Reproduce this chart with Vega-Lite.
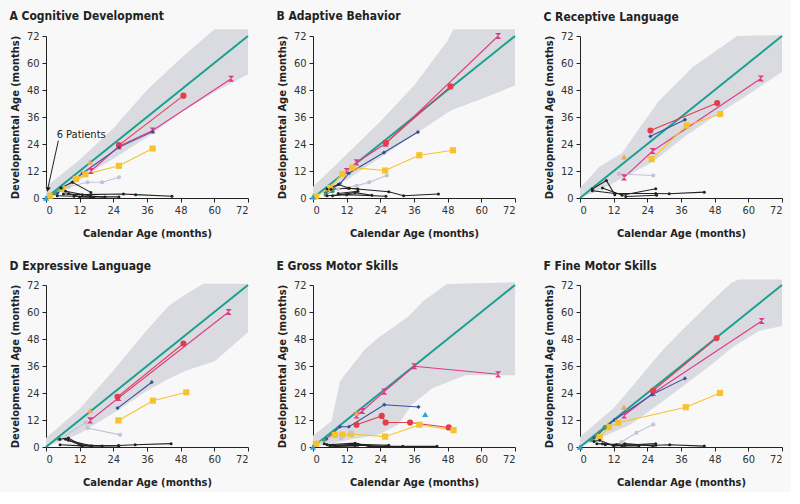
{
"$schema": "https://vega.github.io/schema/vega-lite/v6.json",
"padding": {"left": 9, "top": 10, "right": 5, "bottom": 5},
"columns": 3,
"spacing": {"row": 22, "column": 24},
"datasets": {
"diag": [{"x": 0, "y": 0}, {"x": 72, "y": 72}],
"band": [
{"p":"A","x":0,"y":0,"y2":5},{"p":"A","x":6,"y":3,"y2":11},{"p":"A","x":12,"y":8,"y2":17},{"p":"A","x":18,"y":13,"y2":24},{"p":"A","x":24,"y":17.5,"y2":31},{"p":"A","x":36,"y":27,"y2":48},{"p":"A","x":48,"y":38,"y2":62},{"p":"A","x":60,"y":47,"y2":75},{"p":"A","x":66,"y":51,"y2":75},{"p":"A","x":72,"y":55,"y2":75},
{"p":"B","x":0,"y":0,"y2":5},{"p":"B","x":12,"y":8,"y2":19.5},{"p":"B","x":24,"y":18,"y2":34},{"p":"B","x":36,"y":28,"y2":50},{"p":"B","x":48,"y":38,"y2":70},{"p":"B","x":50,"y":39.3,"y2":75},{"p":"B","x":60,"y":44,"y2":75},{"p":"B","x":72,"y":50,"y2":75},
{"p":"C","x":0,"y":0,"y2":4.4},{"p":"C","x":7,"y":3.5,"y2":14},{"p":"C","x":11,"y":6,"y2":17},{"p":"C","x":15,"y":8.7,"y2":20},{"p":"C","x":20,"y":12,"y2":29},{"p":"C","x":26,"y":16,"y2":39.5},{"p":"C","x":28,"y":18,"y2":43},{"p":"C","x":38,"y":28,"y2":55.5},{"p":"C","x":40,"y":29.6,"y2":58},{"p":"C","x":50,"y":38,"y2":66.8},{"p":"C","x":56,"y":42.8,"y2":72},{"p":"C","x":60,"y":46,"y2":72.1},{"p":"C","x":72,"y":56,"y2":72.5},
{"p":"D","x":0,"y":0,"y2":4},{"p":"D","x":12,"y":6,"y2":17},{"p":"D","x":24,"y":15,"y2":34},{"p":"D","x":36,"y":25,"y2":52},{"p":"D","x":44,"y":30.5,"y2":63},{"p":"D","x":50,"y":34,"y2":68},{"p":"D","x":56,"y":36.5,"y2":72.6},{"p":"D","x":60,"y":38,"y2":72.6},{"p":"D","x":72,"y":51,"y2":72.6},
{"p":"E","x":0,"y":0,"y2":5},{"p":"E","x":6.6,"y":1.6,"y2":11.6},{"p":"E","x":9.6,"y":2.4,"y2":29},{"p":"E","x":11.3,"y":2.8,"y2":32},{"p":"E","x":12,"y":3,"y2":33.1},{"p":"E","x":18.5,"y":4.4,"y2":43.5},{"p":"E","x":24,"y":5.8,"y2":49.2},{"p":"E","x":25.7,"y":7,"y2":50.7},{"p":"E","x":30.4,"y":10,"y2":54.8},{"p":"E","x":34,"y":16.6,"y2":58},{"p":"E","x":35.2,"y":18.8,"y2":59.6},{"p":"E","x":39.4,"y":23,"y2":65},{"p":"E","x":42.4,"y":26,"y2":67.7},{"p":"E","x":47.8,"y":28.7,"y2":72.5},{"p":"E","x":54.3,"y":31.9,"y2":72.7},{"p":"E","x":72,"y":31.9,"y2":73.2},
{"p":"F","x":0,"y":0,"y2":4.4},{"p":"F","x":12,"y":6.7,"y2":17.3},{"p":"F","x":18,"y":10,"y2":26},{"p":"F","x":24,"y":15.3,"y2":35},{"p":"F","x":30,"y":20.8,"y2":43.8},{"p":"F","x":36,"y":26.3,"y2":51.5},{"p":"F","x":47,"y":36.8,"y2":64.9},{"p":"F","x":54,"y":44,"y2":73},{"p":"F","x":56.5,"y":46,"y2":74.5},{"p":"F","x":64,"y":51.7,"y2":74.5},{"p":"F","x":72,"y":53.8,"y2":74.5}
],
"pts": [
{"p":"A","id":"pink","x":16,"y":12},{"p":"A","id":"pink","x":26,"y":23},{"p":"A","id":"pink","x":38,"y":30},{"p":"A","id":"pink","x":66,"y":53},
{"p":"A","id":"red","x":26,"y":23.5},{"p":"A","id":"red","x":49,"y":45.5},
{"p":"A","id":"orange","x":15.7,"y":16},
{"p":"A","id":"blue","x":4,"y":2},{"p":"A","id":"blue","x":13,"y":11},{"p":"A","id":"blue","x":26,"y":22.5},{"p":"A","id":"blue","x":38,"y":29.5},
{"p":"A","id":"yellow","x":1.5,"y":1},{"p":"A","id":"yellow","x":6,"y":4},{"p":"A","id":"yellow","x":10.7,"y":8.4},{"p":"A","id":"yellow","x":14,"y":10.5},{"p":"A","id":"yellow","x":26,"y":14.3},{"p":"A","id":"yellow","x":38,"y":22},
{"p":"A","id":"lav","x":8,"y":5},{"p":"A","id":"lav","x":14.8,"y":7},{"p":"A","id":"lav","x":20,"y":7},{"p":"A","id":"lav","x":26,"y":9.2},
{"p":"A","id":"green","x":3,"y":2},{"p":"A","id":"green","x":5.5,"y":4.5},
{"p":"A","id":"lblue","x":0,"y":0},
{"p":"A","id":"k1","x":5.3,"y":4.6},{"p":"A","id":"k1","x":9.4,"y":7},{"p":"A","id":"k1","x":16,"y":2.5},
{"p":"A","id":"k2","x":6.2,"y":1.8},{"p":"A","id":"k2","x":13,"y":1.5},{"p":"A","id":"k2","x":27.6,"y":1.8},{"p":"A","id":"k2","x":32,"y":1.5},{"p":"A","id":"k2","x":44.9,"y":0.8},
{"p":"A","id":"k3","x":7,"y":3},{"p":"A","id":"k3","x":15.9,"y":0.9},{"p":"A","id":"k3","x":21,"y":0.4},
{"p":"A","id":"k4","x":8,"y":2},{"p":"A","id":"k4","x":12,"y":0.5},{"p":"A","id":"k4","x":17,"y":0.3},
{"p":"A","id":"k5","x":4,"y":1},{"p":"A","id":"k5","x":10,"y":0.8},{"p":"A","id":"k5","x":16,"y":0.5},{"p":"A","id":"k5","x":26,"y":0.5},

{"p":"B","id":"pink","x":12,"y":12},{"p":"B","id":"pink","x":15.5,"y":15.8},{"p":"B","id":"pink","x":25.9,"y":24.2},{"p":"B","id":"pink","x":66,"y":72},
{"p":"B","id":"red","x":26,"y":24.5},{"p":"B","id":"red","x":49,"y":49.6},
{"p":"B","id":"orange","x":11,"y":11},
{"p":"B","id":"blue","x":4.5,"y":2.2},{"p":"B","id":"blue","x":9.6,"y":6.3},{"p":"B","id":"blue","x":12.8,"y":11},{"p":"B","id":"blue","x":25.3,"y":20.2},{"p":"B","id":"blue","x":37.4,"y":29.3},
{"p":"B","id":"yellow","x":1,"y":0.7},{"p":"B","id":"yellow","x":6,"y":4.5},{"p":"B","id":"yellow","x":10.4,"y":10.7},{"p":"B","id":"yellow","x":14,"y":13.5},{"p":"B","id":"yellow","x":25.7,"y":12.2},{"p":"B","id":"yellow","x":37.9,"y":19},{"p":"B","id":"yellow","x":49.9,"y":21.2},
{"p":"B","id":"lav","x":9,"y":4},{"p":"B","id":"lav","x":15.5,"y":5.4},{"p":"B","id":"lav","x":20,"y":7},{"p":"B","id":"lav","x":26.3,"y":10},
{"p":"B","id":"green","x":4.5,"y":1.5},{"p":"B","id":"green","x":7,"y":3},
{"p":"B","id":"lblue","x":0,"y":0.5},
{"p":"B","id":"k1","x":5,"y":4},{"p":"B","id":"k1","x":9,"y":6},{"p":"B","id":"k1","x":13,"y":4.3},{"p":"B","id":"k1","x":16,"y":4},
{"p":"B","id":"k2","x":6.4,"y":3.9},{"p":"B","id":"k2","x":12.6,"y":4.3},{"p":"B","id":"k2","x":27,"y":2.8},{"p":"B","id":"k2","x":32.3,"y":1},{"p":"B","id":"k2","x":44.7,"y":1.8},
{"p":"B","id":"k3","x":7,"y":1},{"p":"B","id":"k3","x":15,"y":2.4},{"p":"B","id":"k3","x":21,"y":1.2},
{"p":"B","id":"k4","x":9,"y":2},{"p":"B","id":"k4","x":16,"y":3},
{"p":"B","id":"k5","x":5,"y":1},{"p":"B","id":"k5","x":12,"y":1.5},{"p":"B","id":"k5","x":26,"y":0.8},

{"p":"C","id":"pink","x":15.7,"y":9.2},{"p":"C","id":"pink","x":25.9,"y":20.9},{"p":"C","id":"pink","x":64.5,"y":53.1},
{"p":"C","id":"red","x":25.1,"y":30},{"p":"C","id":"red","x":48.9,"y":42.2},
{"p":"C","id":"orange","x":15.7,"y":18.3},
{"p":"C","id":"blue","x":25.1,"y":27.4},{"p":"C","id":"blue","x":37.4,"y":34.8},
{"p":"C","id":"yellow","x":25.5,"y":17.3},{"p":"C","id":"yellow","x":38,"y":32.2},{"p":"C","id":"yellow","x":50,"y":37.3},
{"p":"C","id":"lav","x":13.9,"y":10.7},{"p":"C","id":"lav","x":26.1,"y":10},
{"p":"C","id":"green","x":4.4,"y":4},
{"p":"C","id":"k1","x":4.4,"y":4},{"p":"C","id":"k1","x":9.4,"y":7.8},{"p":"C","id":"k1","x":12.4,"y":1.5},
{"p":"C","id":"k2","x":4.4,"y":3.2},{"p":"C","id":"k2","x":12.5,"y":2},{"p":"C","id":"k2","x":27,"y":2},{"p":"C","id":"k2","x":31.8,"y":1.9},{"p":"C","id":"k2","x":44.3,"y":2.6},
{"p":"C","id":"k3","x":8,"y":4.4},{"p":"C","id":"k3","x":15,"y":1.2},{"p":"C","id":"k3","x":27,"y":4.1},
{"p":"C","id":"k4","x":16.3,"y":0.7},{"p":"C","id":"k4","x":27.3,"y":1.2},

{"p":"D","id":"pink","x":15.7,"y":11.8},{"p":"D","id":"pink","x":25.8,"y":21.8},{"p":"D","id":"pink","x":65.1,"y":60},
{"p":"D","id":"red","x":25.5,"y":22.3},{"p":"D","id":"red","x":49,"y":46},
{"p":"D","id":"orange","x":15.7,"y":16.2},
{"p":"D","id":"blue","x":25.5,"y":17.3},{"p":"D","id":"blue","x":37.7,"y":28.8},
{"p":"D","id":"yellow","x":25.8,"y":11.8},{"p":"D","id":"yellow","x":38.1,"y":20.6},{"p":"D","id":"yellow","x":50,"y":24.3},
{"p":"D","id":"lav","x":5,"y":3.5},{"p":"D","id":"lav","x":14.2,"y":11},{"p":"D","id":"lav","x":14.8,"y":8.4},{"p":"D","id":"lav","x":26.4,"y":5.4},
{"p":"D","id":"green","x":4.4,"y":3.7},
{"p":"D","id":"k1","x":5,"y":3.5},{"p":"D","id":"k1","x":8,"y":4},{"p":"D","id":"k1","x":12.7,"y":0.7},{"p":"D","id":"k1","x":16.3,"y":0.4},
{"p":"D","id":"k2","x":5,"y":1},{"p":"D","id":"k2","x":13,"y":0.5},{"p":"D","id":"k2","x":25.8,"y":0.7},{"p":"D","id":"k2","x":31.8,"y":1},{"p":"D","id":"k2","x":44.6,"y":1.5},
{"p":"D","id":"k3","x":7,"y":3.5},{"p":"D","id":"k3","x":12,"y":1},{"p":"D","id":"k3","x":20,"y":0.5},
{"p":"D","id":"k4","x":8,"y":3},{"p":"D","id":"k4","x":16,"y":0.5},{"p":"D","id":"k4","x":26,"y":0.5},

{"p":"E","id":"pink","x":15.5,"y":14},{"p":"E","id":"pink","x":17.6,"y":16},{"p":"E","id":"pink","x":25.4,"y":24.6},{"p":"E","id":"pink","x":36.1,"y":35.9},{"p":"E","id":"pink","x":66,"y":32.3},
{"p":"E","id":"red","x":15.5,"y":9.9},{"p":"E","id":"red","x":24.5,"y":13.8},{"p":"E","id":"red","x":25.9,"y":10.9},{"p":"E","id":"red","x":34.6,"y":10.9},{"p":"E","id":"red","x":48.4,"y":8.7},
{"p":"E","id":"orange","x":15.5,"y":15},
{"p":"E","id":"blue","x":4.8,"y":3.6},{"p":"E","id":"blue","x":9.6,"y":9},{"p":"E","id":"blue","x":12.8,"y":9},{"p":"E","id":"blue","x":25.4,"y":18.8},{"p":"E","id":"blue","x":37.6,"y":17.8},
{"p":"E","id":"yellow","x":1,"y":1.4},{"p":"E","id":"yellow","x":7.8,"y":5.4},{"p":"E","id":"yellow","x":10.4,"y":5.5},{"p":"E","id":"yellow","x":13.5,"y":5.8},{"p":"E","id":"yellow","x":25.7,"y":4.6},{"p":"E","id":"yellow","x":37.9,"y":9.9},{"p":"E","id":"yellow","x":50.1,"y":7.5},
{"p":"E","id":"lav","x":10,"y":4},{"p":"E","id":"lav","x":13.5,"y":6.5},
{"p":"E","id":"lblue","x":0,"y":0},{"p":"E","id":"lblue2","x":40,"y":14.5},
{"p":"E","id":"green","x":3.9,"y":3.2},
{"p":"E","id":"k1","x":5,"y":1},{"p":"E","id":"k1","x":15,"y":1.7},{"p":"E","id":"k1","x":20,"y":0.3},{"p":"E","id":"k1","x":32,"y":0.3},{"p":"E","id":"k1","x":44.2,"y":0.3},
{"p":"E","id":"k2","x":6,"y":0.5},{"p":"E","id":"k2","x":16,"y":0.8},{"p":"E","id":"k2","x":26,"y":0.3},
{"p":"E","id":"k3","x":4,"y":1.5},{"p":"E","id":"k3","x":8,"y":0.3},{"p":"E","id":"k3","x":15,"y":0.5},
{"p":"E","id":"k4","x":7,"y":0.8},{"p":"E","id":"k4","x":16,"y":1.2},{"p":"E","id":"k4","x":27,"y":0.8},

{"p":"F","id":"pink","x":15.7,"y":14},{"p":"F","id":"pink","x":26.1,"y":24},{"p":"F","id":"pink","x":64.8,"y":56},
{"p":"F","id":"red","x":26,"y":25},{"p":"F","id":"red","x":48.7,"y":48.4},
{"p":"F","id":"orange","x":15.7,"y":17.7},
{"p":"F","id":"blue","x":5,"y":4},{"p":"F","id":"blue","x":9,"y":8.5},{"p":"F","id":"blue","x":12.4,"y":12.1},{"p":"F","id":"blue","x":25.7,"y":23.3},{"p":"F","id":"blue","x":37.4,"y":30.5},
{"p":"F","id":"yellow","x":7,"y":4.4},{"p":"F","id":"yellow","x":10.3,"y":8.8},{"p":"F","id":"yellow","x":13.6,"y":10.8},{"p":"F","id":"yellow","x":37.7,"y":17.7},{"p":"F","id":"yellow","x":49.9,"y":24},
{"p":"F","id":"lav","x":14.8,"y":2.2},{"p":"F","id":"lav","x":20.1,"y":6.3},{"p":"F","id":"lav","x":26.1,"y":10},
{"p":"F","id":"green","x":4,"y":3},{"p":"F","id":"green","x":8.8,"y":8.8},
{"p":"F","id":"lblue","x":0,"y":0},
{"p":"F","id":"k1","x":5,"y":2.5},{"p":"F","id":"k1","x":7,"y":3},{"p":"F","id":"k1","x":12,"y":0.5},{"p":"F","id":"k1","x":16,"y":0.8},{"p":"F","id":"k1","x":27,"y":1.5},
{"p":"F","id":"k2","x":6,"y":1.5},{"p":"F","id":"k2","x":13,"y":1},{"p":"F","id":"k2","x":27,"y":0.8},{"p":"F","id":"k2","x":32,"y":1},{"p":"F","id":"k2","x":44.3,"y":0.4},
{"p":"F","id":"k3","x":8,"y":1.5},{"p":"F","id":"k3","x":15,"y":0.5},{"p":"F","id":"k3","x":21,"y":0.5},
{"p":"F","id":"k4","x":9,"y":1},{"p":"F","id":"k4","x":16,"y":1.5},{"p":"F","id":"k4","x":26,"y":0.5}
]
},
"concat": [
{"title": "A  Cognitive Development", "width": 202, "height": 162,
 "layer": [
  {"data": {"name": "band"}, "transform": [{"filter": "datum.p == 'A'"}], "mark": {"type": "area", "color": "#d9dbe0"},
   "encoding": {"x": {"field": "x", "type": "quantitative", "scale": {"domain": [0, 72], "nice": false}, "axis": {"values": [0,12,24,36,48,60,72]}, "title": "Calendar Age (months)"},
    "y": {"field": "y", "type": "quantitative", "scale": {"domain": [0, 72], "nice": false}, "axis": {"values": [0,12,24,36,48,60,72]}, "title": "Developmental Age (months)"}, "y2": {"field": "y2"}}},
  {"data": {"name": "diag"}, "mark": {"type": "line", "color": "#1c9e90", "strokeWidth": 2},
   "encoding": {"x": {"field": "x", "type": "quantitative", "axis": {"values": [0,12,24,36,48,60,72]}, "title": "Calendar Age (months)"}, "y": {"field": "y", "type": "quantitative", "axis": {"values": [0,12,24,36,48,60,72]}, "title": "Developmental Age (months)"}}},
  {"data": {"name": "pts"}, "transform": [{"filter": "datum.p == 'A'"}], "mark": {"type": "line", "strokeWidth": 1.1},
   "encoding": {"x": {"field": "x", "type": "quantitative", "axis": {"values": [0,12,24,36,48,60,72]}, "title": "Calendar Age (months)"}, "y": {"field": "y", "type": "quantitative", "axis": {"values": [0,12,24,36,48,60,72]}, "title": "Developmental Age (months)"}, "detail": {"field": "id"},
    "color": {"field": "id", "type": "nominal", "legend": null, "scale": {"domain": ["pink","red","orange","blue","yellow","lav","green","lblue","lblue2","k1","k2","k3","k4","k5"], "range": ["#e2388a","#e23d4b","#f2a35c","#3a4f9c","#f6c32e","#c2c3d8","#3ba16b","#2aa3dd","#2aa3dd","#222222","#222222","#222222","#222222","#222222"]}}}},
  {"data": {"name": "pts"}, "transform": [{"filter": "datum.p == 'A'"}], "mark": {"type": "point", "filled": true, "opacity": 1},
   "encoding": {"x": {"field": "x", "type": "quantitative", "axis": {"values": [0,12,24,36,48,60,72]}, "title": "Calendar Age (months)"}, "y": {"field": "y", "type": "quantitative", "axis": {"values": [0,12,24,36,48,60,72]}, "title": "Developmental Age (months)"},
    "color": {"field": "id", "type": "nominal", "legend": null},
    "shape": {"field": "id", "type": "nominal", "legend": null, "scale": {"domain": ["pink","red","orange","blue","yellow","lav","green","lblue","lblue2","k1","k2","k3","k4","k5"], "range": ["M-1,-1L1,-1L-1,1L1,1Z","circle","triangle-up","diamond","square","circle","circle","triangle-up","triangle-up","circle","circle","circle","circle","circle"]}},
    "size": {"condition": [{"test": "test(/^k/, datum.id)", "value": 9}, {"test": "datum.id == 'blue' || datum.id == 'lav' || datum.id == 'green'", "value": 18}], "value": 38}}},
  {"data": {"values": [{"x": 4.4, "y": 25.5, "x2": 0.7, "y2": 4.5}]}, "mark": {"type": "rule", "color": "#222", "strokeWidth": 1},
   "encoding": {"x": {"field": "x", "type": "quantitative", "axis": {"values": [0,12,24,36,48,60,72]}, "title": "Calendar Age (months)"}, "y": {"field": "y", "type": "quantitative", "axis": {"values": [0,12,24,36,48,60,72]}, "title": "Developmental Age (months)"}, "x2": {"field": "x2"}, "y2": {"field": "y2"}}},
  {"data": {"values": [{"x": 0.6, "y": 3.8}]}, "mark": {"type": "point", "shape": "triangle-down", "angle": 12, "size": 30, "filled": true, "color": "#222", "opacity": 1},
   "encoding": {"x": {"field": "x", "type": "quantitative", "axis": {"values": [0,12,24,36,48,60,72]}, "title": "Calendar Age (months)"}, "y": {"field": "y", "type": "quantitative", "axis": {"values": [0,12,24,36,48,60,72]}, "title": "Developmental Age (months)"}}},
  {"data": {"values": [{"x": 3.8, "y": 28, "t": "6 Patients"}]}, "mark": {"type": "text", "align": "left", "baseline": "middle", "fontSize": 11, "color": "#222"},
   "encoding": {"x": {"field": "x", "type": "quantitative", "axis": {"values": [0,12,24,36,48,60,72]}, "title": "Calendar Age (months)"}, "y": {"field": "y", "type": "quantitative", "axis": {"values": [0,12,24,36,48,60,72]}, "title": "Developmental Age (months)"}, "text": {"field": "t"}}}
 ]},
{"title": "B  Adaptive Behavior", "width": 202, "height": 162,
 "layer": [
  {"data": {"name": "band"}, "transform": [{"filter": "datum.p == 'B'"}], "mark": {"type": "area", "color": "#d9dbe0"},
   "encoding": {"x": {"field": "x", "type": "quantitative", "scale": {"domain": [0, 72], "nice": false}, "axis": {"values": [0,12,24,36,48,60,72]}, "title": "Calendar Age (months)"},
    "y": {"field": "y", "type": "quantitative", "scale": {"domain": [0, 72], "nice": false}, "axis": {"values": [0,12,24,36,48,60,72]}, "title": "Developmental Age (months)"}, "y2": {"field": "y2"}}},
  {"data": {"name": "diag"}, "mark": {"type": "line", "color": "#1c9e90", "strokeWidth": 2},
   "encoding": {"x": {"field": "x", "type": "quantitative", "axis": {"values": [0,12,24,36,48,60,72]}, "title": "Calendar Age (months)"}, "y": {"field": "y", "type": "quantitative", "axis": {"values": [0,12,24,36,48,60,72]}, "title": "Developmental Age (months)"}}},
  {"data": {"name": "pts"}, "transform": [{"filter": "datum.p == 'B'"}], "mark": {"type": "line", "strokeWidth": 1.1},
   "encoding": {"x": {"field": "x", "type": "quantitative", "axis": {"values": [0,12,24,36,48,60,72]}, "title": "Calendar Age (months)"}, "y": {"field": "y", "type": "quantitative", "axis": {"values": [0,12,24,36,48,60,72]}, "title": "Developmental Age (months)"}, "detail": {"field": "id"}, "color": {"field": "id", "type": "nominal", "legend": null}}},
  {"data": {"name": "pts"}, "transform": [{"filter": "datum.p == 'B'"}], "mark": {"type": "point", "filled": true, "opacity": 1},
   "encoding": {"x": {"field": "x", "type": "quantitative", "axis": {"values": [0,12,24,36,48,60,72]}, "title": "Calendar Age (months)"}, "y": {"field": "y", "type": "quantitative", "axis": {"values": [0,12,24,36,48,60,72]}, "title": "Developmental Age (months)"},
    "color": {"field": "id", "type": "nominal", "legend": null}, "shape": {"field": "id", "type": "nominal", "legend": null},
    "size": {"condition": [{"test": "test(/^k/, datum.id)", "value": 9}, {"test": "datum.id == 'blue' || datum.id == 'lav' || datum.id == 'green'", "value": 18}], "value": 38}}}
 ]},
{"title": "C  Receptive Language", "width": 202, "height": 162,
 "layer": [
  {"data": {"name": "band"}, "transform": [{"filter": "datum.p == 'C'"}], "mark": {"type": "area", "color": "#d9dbe0"},
   "encoding": {"x": {"field": "x", "type": "quantitative", "scale": {"domain": [0, 72], "nice": false}, "axis": {"values": [0,12,24,36,48,60,72]}, "title": "Calendar Age (months)"},
    "y": {"field": "y", "type": "quantitative", "scale": {"domain": [0, 72], "nice": false}, "axis": {"values": [0,12,24,36,48,60,72]}, "title": "Developmental Age (months)"}, "y2": {"field": "y2"}}},
  {"data": {"name": "diag"}, "mark": {"type": "line", "color": "#1c9e90", "strokeWidth": 2},
   "encoding": {"x": {"field": "x", "type": "quantitative", "axis": {"values": [0,12,24,36,48,60,72]}, "title": "Calendar Age (months)"}, "y": {"field": "y", "type": "quantitative", "axis": {"values": [0,12,24,36,48,60,72]}, "title": "Developmental Age (months)"}}},
  {"data": {"name": "pts"}, "transform": [{"filter": "datum.p == 'C'"}], "mark": {"type": "line", "strokeWidth": 1.1},
   "encoding": {"x": {"field": "x", "type": "quantitative", "axis": {"values": [0,12,24,36,48,60,72]}, "title": "Calendar Age (months)"}, "y": {"field": "y", "type": "quantitative", "axis": {"values": [0,12,24,36,48,60,72]}, "title": "Developmental Age (months)"}, "detail": {"field": "id"}, "color": {"field": "id", "type": "nominal", "legend": null}}},
  {"data": {"name": "pts"}, "transform": [{"filter": "datum.p == 'C'"}], "mark": {"type": "point", "filled": true, "opacity": 1},
   "encoding": {"x": {"field": "x", "type": "quantitative", "axis": {"values": [0,12,24,36,48,60,72]}, "title": "Calendar Age (months)"}, "y": {"field": "y", "type": "quantitative", "axis": {"values": [0,12,24,36,48,60,72]}, "title": "Developmental Age (months)"},
    "color": {"field": "id", "type": "nominal", "legend": null}, "shape": {"field": "id", "type": "nominal", "legend": null},
    "size": {"condition": [{"test": "test(/^k/, datum.id)", "value": 9}, {"test": "datum.id == 'blue' || datum.id == 'lav' || datum.id == 'green'", "value": 18}], "value": 38}}}
 ]},
{"title": "D  Expressive Language", "width": 202, "height": 162,
 "layer": [
  {"data": {"name": "band"}, "transform": [{"filter": "datum.p == 'D'"}], "mark": {"type": "area", "color": "#d9dbe0"},
   "encoding": {"x": {"field": "x", "type": "quantitative", "scale": {"domain": [0, 72], "nice": false}, "axis": {"values": [0,12,24,36,48,60,72]}, "title": "Calendar Age (months)"},
    "y": {"field": "y", "type": "quantitative", "scale": {"domain": [0, 72], "nice": false}, "axis": {"values": [0,12,24,36,48,60,72]}, "title": "Developmental Age (months)"}, "y2": {"field": "y2"}}},
  {"data": {"name": "diag"}, "mark": {"type": "line", "color": "#1c9e90", "strokeWidth": 2},
   "encoding": {"x": {"field": "x", "type": "quantitative", "axis": {"values": [0,12,24,36,48,60,72]}, "title": "Calendar Age (months)"}, "y": {"field": "y", "type": "quantitative", "axis": {"values": [0,12,24,36,48,60,72]}, "title": "Developmental Age (months)"}}},
  {"data": {"name": "pts"}, "transform": [{"filter": "datum.p == 'D'"}], "mark": {"type": "line", "strokeWidth": 1.1},
   "encoding": {"x": {"field": "x", "type": "quantitative", "axis": {"values": [0,12,24,36,48,60,72]}, "title": "Calendar Age (months)"}, "y": {"field": "y", "type": "quantitative", "axis": {"values": [0,12,24,36,48,60,72]}, "title": "Developmental Age (months)"}, "detail": {"field": "id"}, "color": {"field": "id", "type": "nominal", "legend": null}}},
  {"data": {"name": "pts"}, "transform": [{"filter": "datum.p == 'D'"}], "mark": {"type": "point", "filled": true, "opacity": 1},
   "encoding": {"x": {"field": "x", "type": "quantitative", "axis": {"values": [0,12,24,36,48,60,72]}, "title": "Calendar Age (months)"}, "y": {"field": "y", "type": "quantitative", "axis": {"values": [0,12,24,36,48,60,72]}, "title": "Developmental Age (months)"},
    "color": {"field": "id", "type": "nominal", "legend": null}, "shape": {"field": "id", "type": "nominal", "legend": null},
    "size": {"condition": [{"test": "test(/^k/, datum.id)", "value": 9}, {"test": "datum.id == 'blue' || datum.id == 'lav' || datum.id == 'green'", "value": 18}], "value": 38}}}
 ]},
{"title": "E  Gross Motor Skills", "width": 202, "height": 162,
 "layer": [
  {"data": {"name": "band"}, "transform": [{"filter": "datum.p == 'E'"}], "mark": {"type": "area", "color": "#d9dbe0"},
   "encoding": {"x": {"field": "x", "type": "quantitative", "scale": {"domain": [0, 72], "nice": false}, "axis": {"values": [0,12,24,36,48,60,72]}, "title": "Calendar Age (months)"},
    "y": {"field": "y", "type": "quantitative", "scale": {"domain": [0, 72], "nice": false}, "axis": {"values": [0,12,24,36,48,60,72]}, "title": "Developmental Age (months)"}, "y2": {"field": "y2"}}},
  {"data": {"name": "diag"}, "mark": {"type": "line", "color": "#1c9e90", "strokeWidth": 2},
   "encoding": {"x": {"field": "x", "type": "quantitative", "axis": {"values": [0,12,24,36,48,60,72]}, "title": "Calendar Age (months)"}, "y": {"field": "y", "type": "quantitative", "axis": {"values": [0,12,24,36,48,60,72]}, "title": "Developmental Age (months)"}}},
  {"data": {"name": "pts"}, "transform": [{"filter": "datum.p == 'E'"}], "mark": {"type": "line", "strokeWidth": 1.1},
   "encoding": {"x": {"field": "x", "type": "quantitative", "axis": {"values": [0,12,24,36,48,60,72]}, "title": "Calendar Age (months)"}, "y": {"field": "y", "type": "quantitative", "axis": {"values": [0,12,24,36,48,60,72]}, "title": "Developmental Age (months)"}, "detail": {"field": "id"}, "color": {"field": "id", "type": "nominal", "legend": null}}},
  {"data": {"name": "pts"}, "transform": [{"filter": "datum.p == 'E'"}], "mark": {"type": "point", "filled": true, "opacity": 1},
   "encoding": {"x": {"field": "x", "type": "quantitative", "axis": {"values": [0,12,24,36,48,60,72]}, "title": "Calendar Age (months)"}, "y": {"field": "y", "type": "quantitative", "axis": {"values": [0,12,24,36,48,60,72]}, "title": "Developmental Age (months)"},
    "color": {"field": "id", "type": "nominal", "legend": null}, "shape": {"field": "id", "type": "nominal", "legend": null},
    "size": {"condition": [{"test": "test(/^k/, datum.id)", "value": 9}, {"test": "datum.id == 'blue' || datum.id == 'lav' || datum.id == 'green'", "value": 18}], "value": 38}}}
 ]},
{"title": "F  Fine Motor Skills", "width": 202, "height": 162,
 "layer": [
  {"data": {"name": "band"}, "transform": [{"filter": "datum.p == 'F'"}], "mark": {"type": "area", "color": "#d9dbe0"},
   "encoding": {"x": {"field": "x", "type": "quantitative", "scale": {"domain": [0, 72], "nice": false}, "axis": {"values": [0,12,24,36,48,60,72]}, "title": "Calendar Age (months)"},
    "y": {"field": "y", "type": "quantitative", "scale": {"domain": [0, 72], "nice": false}, "axis": {"values": [0,12,24,36,48,60,72]}, "title": "Developmental Age (months)"}, "y2": {"field": "y2"}}},
  {"data": {"name": "diag"}, "mark": {"type": "line", "color": "#1c9e90", "strokeWidth": 2},
   "encoding": {"x": {"field": "x", "type": "quantitative", "axis": {"values": [0,12,24,36,48,60,72]}, "title": "Calendar Age (months)"}, "y": {"field": "y", "type": "quantitative", "axis": {"values": [0,12,24,36,48,60,72]}, "title": "Developmental Age (months)"}}},
  {"data": {"name": "pts"}, "transform": [{"filter": "datum.p == 'F'"}], "mark": {"type": "line", "strokeWidth": 1.1},
   "encoding": {"x": {"field": "x", "type": "quantitative", "axis": {"values": [0,12,24,36,48,60,72]}, "title": "Calendar Age (months)"}, "y": {"field": "y", "type": "quantitative", "axis": {"values": [0,12,24,36,48,60,72]}, "title": "Developmental Age (months)"}, "detail": {"field": "id"}, "color": {"field": "id", "type": "nominal", "legend": null}}},
  {"data": {"name": "pts"}, "transform": [{"filter": "datum.p == 'F'"}], "mark": {"type": "point", "filled": true, "opacity": 1},
   "encoding": {"x": {"field": "x", "type": "quantitative", "axis": {"values": [0,12,24,36,48,60,72]}, "title": "Calendar Age (months)"}, "y": {"field": "y", "type": "quantitative", "axis": {"values": [0,12,24,36,48,60,72]}, "title": "Developmental Age (months)"},
    "color": {"field": "id", "type": "nominal", "legend": null}, "shape": {"field": "id", "type": "nominal", "legend": null},
    "size": {"condition": [{"test": "test(/^k/, datum.id)", "value": 9}, {"test": "datum.id == 'blue' || datum.id == 'lav' || datum.id == 'green'", "value": 18}], "value": 38}}}
 ]}
],
"resolve": {"scale": {"x": "independent", "y": "independent"}},
"config": {
 "background": "#f8f8f9",
 "view": {"stroke": null},
 "font": "Liberation Sans Narrow, DejaVu Sans Condensed, Roboto, sans-serif",
 "axis": {"grid": false, "labelOverlap": false, "domainColor": "#222", "tickColor": "#222", "tickSize": 4, "labelFont": "Liberation Sans Narrow, DejaVu Sans Condensed, Roboto, sans-serif", "labelFontSize": 11, "labelColor": "#333", "titleFont": "Liberation Sans Narrow, DejaVu Sans Condensed, Roboto, sans-serif", "titleFontSize": 11, "titleFontWeight": "bold", "titleColor": "#222"},
 "axisY": {"titlePadding": 6, "labelPadding": 3},
 "axisX": {"titlePadding": 12},
 "title": {"anchor": "start", "fontSize": 12, "fontWeight": "bold", "font": "Liberation Sans Narrow, DejaVu Sans Condensed, Roboto, sans-serif", "color": "#222", "offset": 6}
}
}
